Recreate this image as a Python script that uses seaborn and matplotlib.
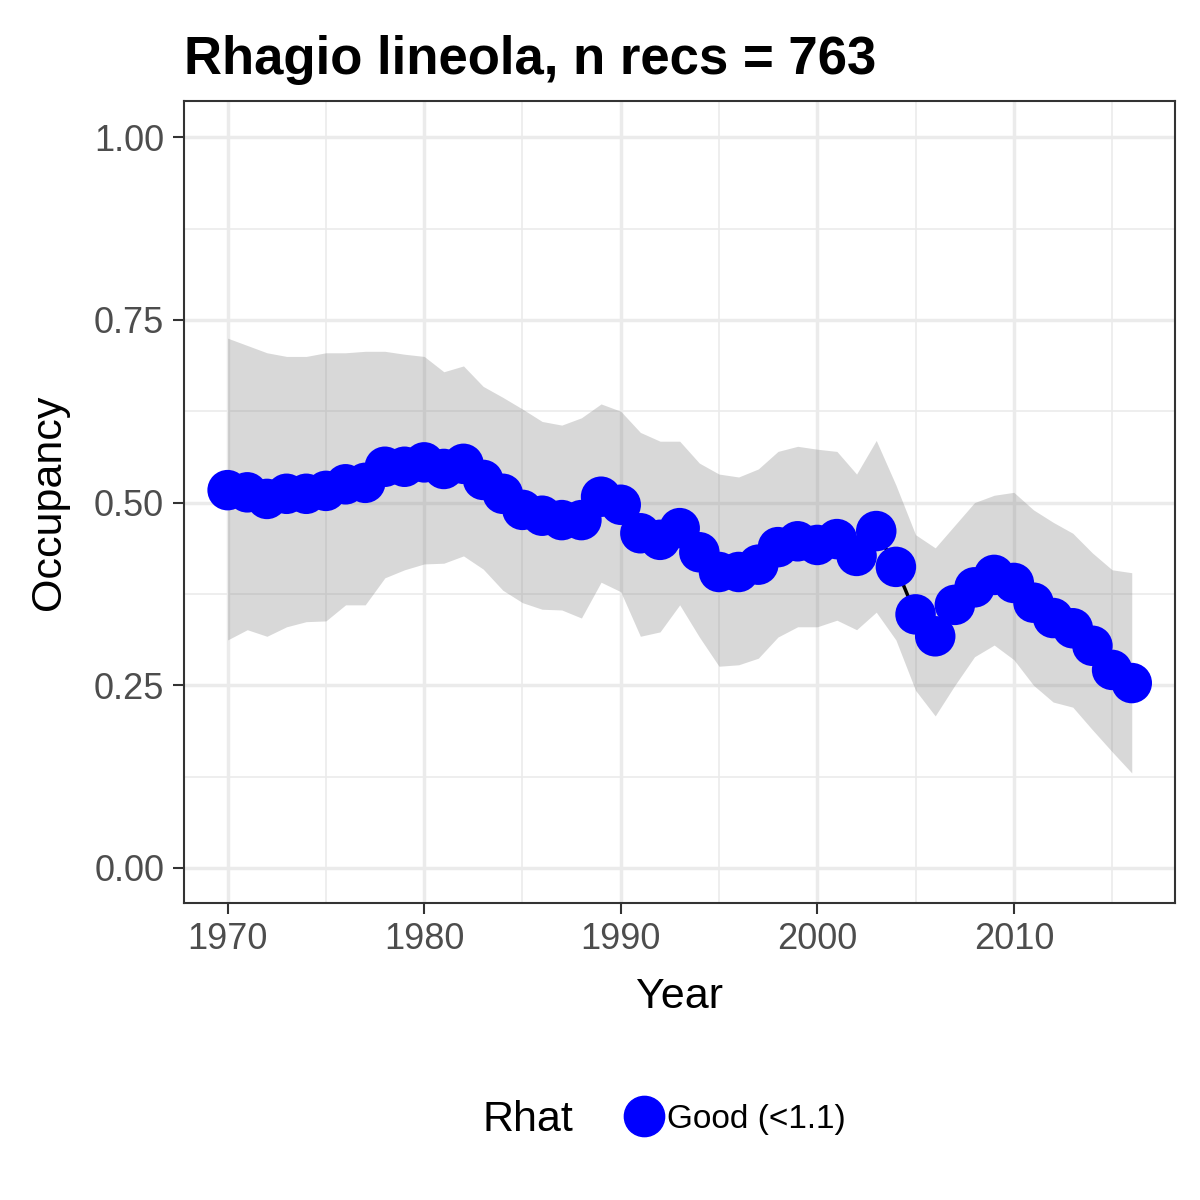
import numpy as np
import pandas as pd
import matplotlib
matplotlib.use("Agg")
import matplotlib.pyplot as plt
import seaborn as sns
from matplotlib.lines import Line2D
from matplotlib.ticker import MultipleLocator

years = list(range(1970, 2017))
occupancy = [0.517, 0.514, 0.505, 0.512, 0.512, 0.516, 0.525, 0.527, 0.549, 0.549,
             0.555, 0.546, 0.553, 0.531, 0.512, 0.490, 0.482, 0.476, 0.476, 0.508,
             0.497, 0.458, 0.449, 0.465, 0.432, 0.405, 0.405, 0.415, 0.439, 0.447,
             0.442, 0.450, 0.427, 0.461, 0.412, 0.347, 0.317, 0.360, 0.384, 0.401,
             0.390, 0.363, 0.342, 0.328, 0.304, 0.271, 0.253]
upper = [0.725, 0.715, 0.705, 0.700, 0.700, 0.705, 0.705, 0.707, 0.707, 0.703,
         0.700, 0.679, 0.687, 0.659, 0.644, 0.628, 0.611, 0.606, 0.616, 0.635,
         0.625, 0.596, 0.584, 0.584, 0.554, 0.539, 0.535, 0.546, 0.570, 0.577,
         0.573, 0.570, 0.539, 0.585, 0.524, 0.456, 0.438, 0.469, 0.500, 0.510,
         0.514, 0.490, 0.473, 0.458, 0.431, 0.408, 0.404]
lower = [0.312, 0.326, 0.317, 0.330, 0.337, 0.338, 0.360, 0.360, 0.397, 0.408,
         0.416, 0.417, 0.427, 0.409, 0.380, 0.363, 0.354, 0.353, 0.342, 0.391,
         0.378, 0.317, 0.323, 0.360, 0.316, 0.276, 0.278, 0.287, 0.316, 0.330,
         0.330, 0.339, 0.326, 0.350, 0.312, 0.243, 0.208, 0.250, 0.289, 0.305,
         0.285, 0.250, 0.227, 0.220, 0.189, 0.159, 0.130]

df = pd.DataFrame({"Year": years, "Occupancy": occupancy, "upper": upper, "lower": lower})

sns.set_theme(style="white")
plt.rcParams["font.family"] = ["Liberation Sans", "DejaVu Sans"]

fig = plt.figure(figsize=(12, 12), dpi=100)
ax = fig.add_axes([0.153, 0.2475, 0.826, 0.668])

ax.fill_between(df["Year"], df["lower"], df["upper"], color="grey", alpha=0.3, lw=0, zorder=2)
sns.lineplot(data=df, x="Year", y="Occupancy", color="black", lw=2.5, ax=ax, zorder=3)
sns.scatterplot(data=df, x="Year", y="Occupancy", color="#0000FF", s=850, edgecolor="none", ax=ax, zorder=4)

ax.set_xlim(1967.76, 2018.19)
ax.set_ylim(-0.048, 1.049)
ax.xaxis.set_major_locator(MultipleLocator(10))
ax.xaxis.set_minor_locator(MultipleLocator(5))
ax.yaxis.set_minor_locator(MultipleLocator(0.125))
ax.set_yticks([0, 0.25, 0.5, 0.75, 1.0])
ax.set_yticklabels(["0.00", "0.25", "0.50", "0.75", "1.00"])
ax.grid(which="major", color="#EBEBEB", lw=2.5, zorder=0)
ax.grid(which="minor", color="#EBEBEB", lw=1.2, zorder=0)
ax.set_axisbelow(True)
for s in ax.spines.values():
    s.set_color("#333333")
    s.set_linewidth(1.5)
ax.tick_params(which="major", direction="out", length=8, width=1.5, color="#333333",
               labelsize=26, labelcolor="#4D4D4D", bottom=True, left=True, pad=6)
ax.tick_params(which="minor", length=0)
ax.set_xlabel("Year", fontsize=31, color="black", labelpad=14)
ax.set_ylabel("Occupancy", fontsize=31, color="black", labelpad=18)
ax.set_title("Rhagio lineola, n recs = 763", fontsize=38, fontweight="bold", color="black",
             loc="left", x=0.0, pad=20)

fig.text(0.402, 0.067, "Rhat", fontsize=31, va="center", color="black")
handle = Line2D([], [], marker="o", color="#0000FF", ls="none", markersize=29)
fig.legend(handles=[handle], labels=["Good (<1.1)"], loc="center left",
           bbox_to_anchor=(0.495, 0.067), frameon=False, fontsize=24, handletextpad=0.1,
           handlelength=1.2, labelcolor="black")

fig.savefig("out.png", dpi=100)
